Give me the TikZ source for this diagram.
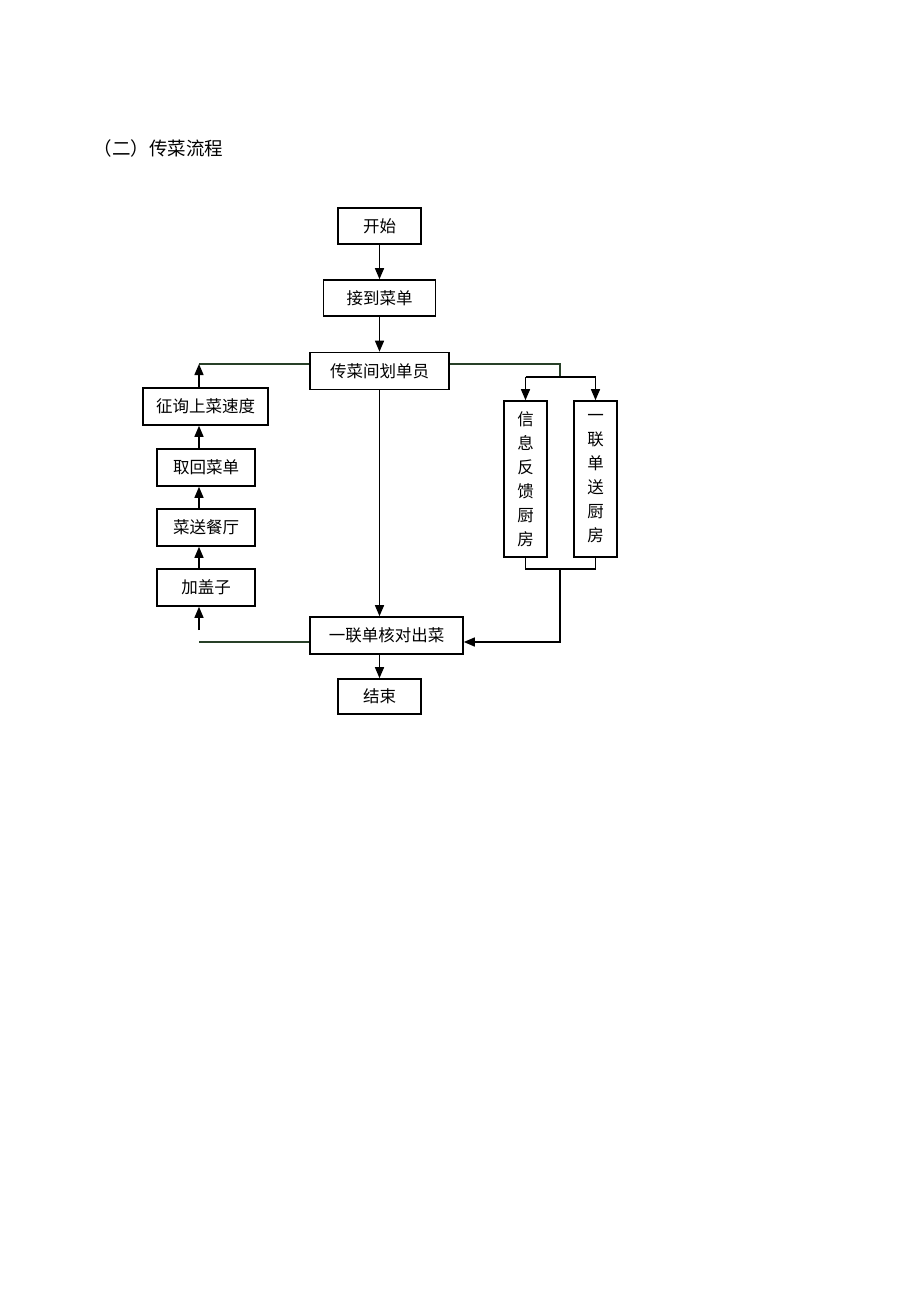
\documentclass[tikz,border=0pt]{standalone}
\usepackage{fontspec}
\setmainfont{Noto Sans CJK SC}
\usetikzlibrary{arrows.meta}
\definecolor{lnk}{RGB}{40,64,40}
\tikzset{
  box/.style={draw=black, line width=1.6pt, rectangle, inner sep=0pt, align=center,
    font=\fontsize{16.5}{24}\selectfont},
  arr/.style={line width=1.4pt, -{Triangle[length=11pt,width=9pt]}},
  ln/.style={line width=1.4pt, draw=lnk},
}
\begin{document}
\begin{tikzpicture}[x=1pt,y=-1pt]
\useasboundingbox (0,0) rectangle (920,1302);
\node[anchor=west, font=\fontsize{18.5}{22}\selectfont] (title) at (90,148) {（二）传菜流程};

\node[box, minimum width=83pt, minimum height=36pt] (start) at (379.5,226) {开始};
\node[box, minimum width=112pt, minimum height=36pt] (recv) at (379.5,298) {接到菜单};
\node[box, minimum width=139pt, minimum height=37pt] (clerk) at (379.5,371) {传菜间划单员};
\node[box, minimum width=125pt, minimum height=37pt] (ask) at (205.5,406.5) {征询上菜速度};
\node[box, minimum width=98pt, minimum height=37pt] (fetch) at (206,467.5) {取回菜单};
\node[box, minimum width=98pt, minimum height=37pt] (send) at (206,527.5) {菜送餐厅};
\node[box, minimum width=98pt, minimum height=37pt] (cover) at (206,587.5) {加盖子};
\node[box, minimum width=153pt, minimum height=37pt] (check) at (386.5,635.5) {一联单核对出菜};
\node[box, minimum width=83pt, minimum height=35pt] (end) at (379.5,696.5) {结束};
\node[box, minimum width=43pt, minimum height=156pt] (info) at (525.5,479) {信\\息\\反\\馈\\厨\\房};
\node[box, minimum width=43pt, minimum height=156pt] (copy) at (595.5,479) {一\\联\\单\\送\\厨\\房};

\coordinate (colx) at (199,0);
\coordinate (topL) at (199,364);
\coordinate (topR) at (560,364);
\coordinate (splitR) at (560,377);
\coordinate (joinR) at (560,569);
\coordinate (botR) at (560,642);
\coordinate (botL) at (199,642);
\coordinate (botLs) at (199,630);

\draw[arr] (start) -- (recv);
\draw[arr] (recv) -- (clerk);
\draw[arr] (clerk.south) -- (clerk.south |- check.north);
\draw[arr] (check.south -| end) -- (end);

% left loop
\draw[ln] (clerk.west |- topL) -- (topL);
\draw[arr] (ask.north -| colx) -- (topL);
\draw[arr] (fetch.north -| colx) -- (ask.south -| colx);
\draw[arr] (send.north -| colx) -- (fetch.south -| colx);
\draw[arr] (cover.north -| colx) -- (send.south -| colx);
\draw[arr] (botLs) -- (cover.south -| colx);
\draw[ln] (check.west |- botL) -- (botL);

% right branch
\draw[ln] (clerk.east |- topR) -- (topR) -- (splitR);
\draw[line width=1.4pt] (splitR -| info) -- (splitR -| copy);
\draw[arr] (splitR -| info) -- (info.north);
\draw[arr] (splitR -| copy) -- (copy.north);
\draw[line width=1.4pt] (info.south) -- (joinR -| info) -- (joinR -| copy) -- (copy.south);
\draw[arr] (joinR) -- (botR) -- (check.east |- botR);
\end{tikzpicture}
\end{document}
